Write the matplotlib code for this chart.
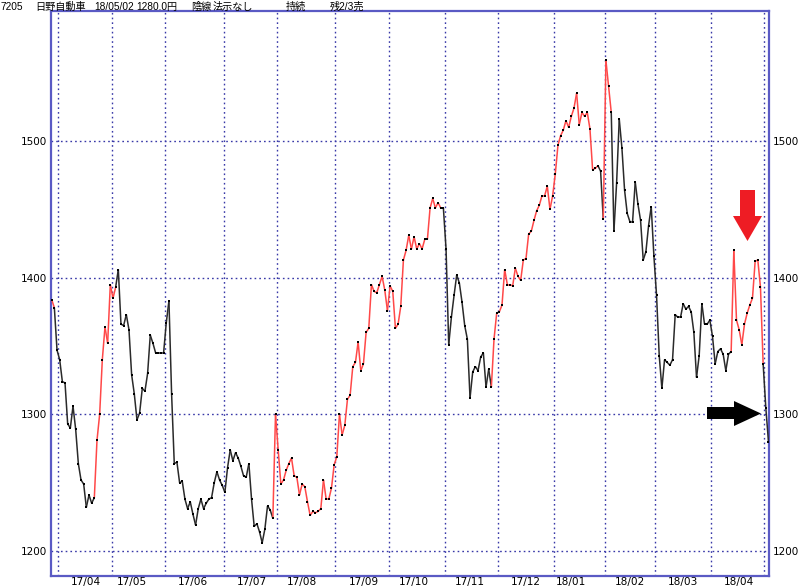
import matplotlib
matplotlib.use("Agg")
import matplotlib.pyplot as plt
import numpy as np
import pandas as pd
from matplotlib.collections import LineCollection
from matplotlib.patches import Polygon

plt.rcParams['font.family'] = ['Noto Sans CJK JP', 'DejaVu Sans']

# ---- data (daily closes) ----
mar17 = [1384, 1378, 1347]
apr17 = [1340, 1324, 1323, 1293, 1290, 1306, 1289, 1264, 1252, 1249,
         1232, 1241, 1235, 1239, 1281, 1300, 1340, 1364, 1352, 1395]
may17 = [1385, 1393, 1406, 1366, 1365, 1373, 1362, 1329, 1315, 1296,
         1301, 1319, 1317, 1330, 1358, 1352, 1345, 1345, 1345, 1345]
jun17 = [1367, 1383, 1315, 1264, 1265, 1250, 1251, 1238, 1231, 1236,
         1227, 1219, 1231, 1238, 1231, 1235, 1238, 1239, 1250, 1258, 1252, 1248]
jul17 = [1243, 1261, 1274, 1266, 1272, 1268, 1262, 1255, 1254, 1264,
         1238, 1218, 1220, 1214, 1206, 1216, 1233, 1230, 1224, 1300]
aug17 = [1274, 1249, 1252, 1259, 1264, 1268, 1255, 1254, 1241, 1249,
         1247, 1236, 1226, 1229, 1228, 1229, 1231, 1252, 1238, 1238, 1246, 1263]
sep17 = [1269, 1300, 1285, 1292, 1311, 1314, 1335, 1338, 1353, 1332,
         1337, 1360, 1363, 1395, 1390, 1389, 1395, 1401, 1391, 1376]
oct17 = [1394, 1390, 1363, 1366, 1379, 1413, 1420, 1431, 1421, 1430,
         1421, 1425, 1421, 1428, 1428, 1451, 1458, 1451, 1455, 1451, 1451]
nov17 = [1421, 1351, 1371, 1387, 1402, 1396, 1382, 1365, 1355, 1312,
         1331, 1335, 1332, 1342, 1345, 1320, 1333, 1320, 1355, 1374]
dec17 = [1375, 1380, 1406, 1395, 1395, 1394, 1407, 1401, 1398, 1413,
         1414, 1432, 1434, 1442, 1449, 1453, 1460, 1460, 1467, 1450, 1460]
jan18 = [1476, 1497, 1504, 1508, 1515, 1510, 1518, 1524, 1535, 1512,
         1521, 1518, 1521, 1509, 1479, 1480, 1482, 1478, 1443]
feb18 = [1559, 1540, 1521, 1434, 1469, 1516, 1495, 1464, 1447, 1441,
         1441, 1470, 1454, 1442, 1413, 1419, 1438, 1452, 1416]
mar18 = [1387, 1343, 1319, 1340, 1338, 1336, 1340, 1373, 1371, 1371,
         1381, 1377, 1379, 1375, 1360, 1327, 1343, 1381, 1366, 1366, 1369]
apr18 = [1357, 1337, 1346, 1348, 1344, 1332, 1344, 1346, 1420, 1369,
         1362, 1351, 1366, 1374, 1380, 1385, 1412, 1413, 1393, 1337]
may18 = [1305, 1280]

monthly = [mar17, apr17, may17, jun17, jul17, aug17, sep17, oct17,
           nov17, dec17, jan18, feb18, mar18, apr18, may18]

# trading calendar (Tokyo)
jp_holidays = ['2017-05-03', '2017-05-04', '2017-05-05', '2017-07-17',
               '2017-08-11', '2017-09-18', '2017-10-09', '2017-11-03',
               '2017-11-23', '2018-01-01', '2018-01-02', '2018-01-03',
               '2018-01-08', '2018-02-12', '2018-03-21', '2018-04-30']
dates = pd.bdate_range('2017-03-29', '2018-05-02', freq='C', holidays=jp_holidays)

# buy-signal (red) periods, as index spans into the daily series
red_spans = [(0, 1), (16, 24), (83, 147), (165, 205), (207, 210), (255, 267)]

yticks = [1200, 1300, 1400, 1500]
title_tokens = ["7205", "日野自動車", "18/05/02", "1280.0円", "陰線", "法示なし",
                "持続", "残2/3売"]
title_token_x = [1, 35, 94, 136, 191, 213, 286, 330]

# ---- build ----
prices = np.concatenate([np.asarray(m, float) for m in monthly])
n = len(prices)
dates = dates[:n]
x = np.arange(n)

W, H = 800, 588
fig = plt.figure(figsize=(W / 100, H / 100), dpi=100)
L, R, T, B = 51, 769, 11, 576
ax = fig.add_axes([L / W, 1 - B / H, (R - L) / W, (B - T) / H])

ax.set_xlim(-0.26, 269.2)
ax.set_ylim(1181.7, 1595.2)

grid_c = '#3838a8'
per = pd.Series(x, index=dates)
month_first = per.groupby([dates.year, dates.month]).min().values
for mf in month_first[1:]:
    ax.axvline(mf - 0.5, color=grid_c, lw=1.0, ls=(0, (1.2, 2.2)), zorder=1)
for yv in yticks:
    ax.axhline(yv, color=grid_c, lw=1.0, ls=(0, (1.2, 2.2)), zorder=1)

# month labels at first trading day on/after the 15th
lab_pos, lab_txt = [], []
for (yr, mo), grp in per.groupby([dates.year, dates.month]):
    d = grp.index
    sel = grp[d.day >= 15]
    if len(grp) < 10 or len(sel) == 0:
        continue
    lab_pos.append(sel.iloc[0])
    lab_txt.append(f"{yr % 100:02d}/{mo:02d}")
ax.set_xticks(lab_pos)
ax.set_xticklabels([])
trans = ax.get_xaxis_transform()
for p, t in zip(lab_pos, lab_txt):
    ax.text(p, -(582 - B) / (B - T), t, transform=trans, fontsize=7.6,
            family='DejaVu Sans', ha='center', va='center')

# line segments coloured by signal
is_red = np.zeros(n - 1, bool)
for s, e in red_spans:
    is_red[s:e] = True
pts = np.column_stack([x, prices])
segs = np.stack([pts[:-1], pts[1:]], axis=1)
cols = np.where(is_red, '#ff4848', '#2a2a2a')
lc = LineCollection(segs, colors=cols, linewidths=1.1, zorder=3)
ax.add_collection(lc)
ax.plot(x, prices, ls='none', marker='s', ms=1.5, mfc='black', mec='black',
        mew=0, zorder=4)

ax.set_yticks(yticks)
ax.set_yticklabels([str(v) for v in yticks], fontsize=7.5, family='DejaVu Sans')
ax.tick_params(axis='y', length=0, pad=3, labelleft=True, labelright=True)
ax.tick_params(axis='x', length=0)
for sp in ax.spines.values():
    sp.set_color('#5a5ac4')
    sp.set_linewidth(1.6)

# title line
for tok, tx in zip(title_tokens, title_token_x):
    fig.text(tx / W, 1 - 7 / H, tok, fontsize=7.3, va='center', ha='left',
             family=['Liberation Sans', 'Noto Sans CJK JP'])

# arrows (annotations) in figure pixel coordinates
def px(pts_):
    return [(a / W, 1 - b / H) for a, b in pts_]

red_arrow = [(740, 190), (755, 190), (755, 216), (762, 216), (747.5, 241),
             (733, 216), (740, 216)]
blk_arrow = [(707, 407), (734, 407), (734, 401), (761, 413.5), (734, 426),
             (734, 419), (707, 419)]
fig.patches.append(Polygon(px(red_arrow), closed=True, fc='#ee1c24', ec='none',
                           transform=fig.transFigure, figure=fig, zorder=10))
fig.patches.append(Polygon(px(blk_arrow), closed=True, fc='black', ec='none',
                           transform=fig.transFigure, figure=fig, zorder=10))

fig.savefig('out.png', dpi=100)
